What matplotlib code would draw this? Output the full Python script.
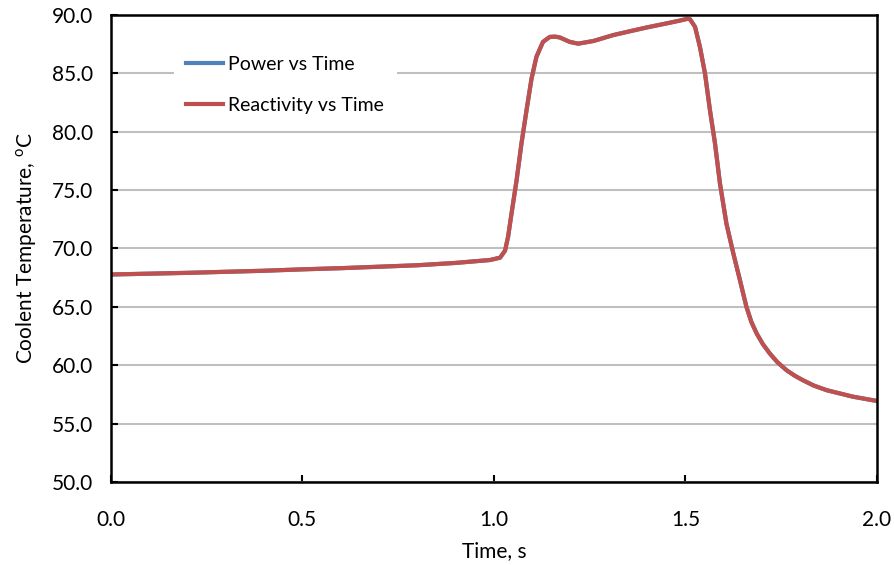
import matplotlib.pyplot as plt

plt.rcParams['font.family'] = ['Lato', 'DejaVu Sans']

# coolant temperature traces (s, degC)
time = [0.0, 0.2, 0.4, 0.5, 0.6, 0.8, 0.9, 0.99, 1.016, 1.029, 1.037, 1.046,
        1.059, 1.072, 1.085, 1.098, 1.111, 1.128, 1.146, 1.160, 1.172, 1.198,
        1.220, 1.260, 1.311, 1.360, 1.398, 1.450, 1.486, 1.505, 1.512, 1.525,
        1.538, 1.551, 1.564, 1.577, 1.590, 1.607, 1.625, 1.642, 1.659, 1.672,
        1.686, 1.702, 1.720, 1.740, 1.764, 1.785, 1.807, 1.835, 1.869, 1.937, 2.0]
power_temp = [67.76, 67.9, 68.08, 68.2, 68.3, 68.55, 68.75, 69.0, 69.2, 69.8, 71.0, 73.0,
              75.8, 79.0, 81.8, 84.5, 86.4, 87.67, 88.1, 88.12, 88.05, 87.67,
              87.52, 87.75, 88.25, 88.62, 88.9, 89.25, 89.5, 89.65, 89.6, 88.96,
              87.2, 84.96, 81.8, 79.0, 75.55, 72.1, 69.55, 67.3, 65.0, 63.7,
              62.7, 61.8, 61.0, 60.25, 59.56, 59.1, 58.7, 58.25, 57.85, 57.3, 56.93]
reactivity_temp = list(power_temp)

xticks = [0.0, 0.5, 1.0, 1.5, 2.0]
yticks = [50, 55, 60, 65, 70, 75, 80, 85, 90]

fig = plt.figure(figsize=(8.94, 5.65), dpi=100)
ax = fig.add_axes([0.124, 0.147, 0.857, 0.827])

ax.plot(time, power_temp, color="#4F81BD", lw=3.0, label="Power vs Time",
        solid_joinstyle="round")
ax.plot(time, reactivity_temp, color="#C0504D", lw=3.0, label="Reactivity vs Time",
        solid_joinstyle="round")

ax.set_xlim(0, 2.0)
ax.set_ylim(50, 90)
ax.set_xticks(xticks)
ax.set_yticks(yticks)
ax.set_xticklabels(["%.1f" % v for v in xticks])
ax.set_yticklabels(["%.1f" % v for v in yticks])
ax.tick_params(direction="in", length=5, width=1.5, labelsize=15, colors="black")
ax.tick_params(axis="y", pad=13)
ax.tick_params(axis="x", pad=20)
ax.grid(axis="y", color="#BFBFBF", lw=1.5)
ax.set_axisbelow(True)
for s in ax.spines.values():
    s.set_linewidth(1.8)

ax.set_xlabel("Time, s", fontsize=15, labelpad=8)
ax.set_ylabel(r"Coolent Temperature, $^{\mathregular{o}}$C", fontsize=15, labelpad=9)

leg = ax.legend(loc="upper left", bbox_to_anchor=(0.082, 0.939), fontsize=14,
                handlelength=1.9, handletextpad=0.26, labelspacing=1.25,
                frameon=True, fancybox=False, borderpad=0.65, borderaxespad=0)
leg.get_frame().set_facecolor("white")
leg.get_frame().set_edgecolor("none")
leg.get_frame().set_alpha(1)

fig.savefig("out.png")
